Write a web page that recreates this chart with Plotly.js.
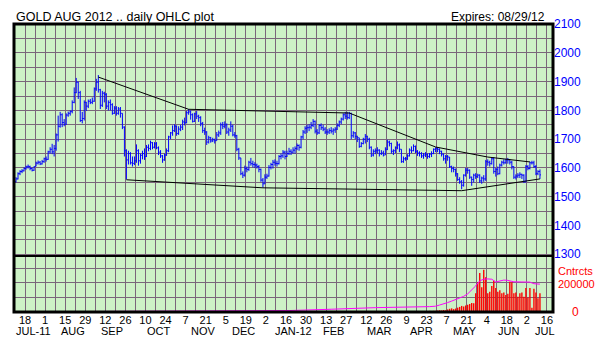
<!DOCTYPE html>
<html>
<head>
<meta charset="utf-8">
<script src="https://cdn.plot.ly/plotly-3.0.1.min.js"></script>
<style>
html,body{margin:0;padding:0;background:#fff;}
#chart{width:612px;height:360px;}
</style>
</head>
<body>
<div id="chart"></div>
<script>
// ---- trading calendar (weekdays) ----
const startDay = '2011-07-11';
const endDay = '2012-07-10';

// ---- daily prices, one row per week (Mon..Fri) ----
const opens = [
1552,1562,1580,1588,1590, 1598,1604,1605,1598,1592, 1606,1617,1620,1614,1622, 1632,1630,1656,1665,1656,
1668,1715,1745,1785,1758, 1752,1784,1790,1796,1828, 1862,1898,1862,1765,1772, 1828,1815,1832,1828,1832,
1875,1898,1872,1818,1860, 1856,1815,1828,1820,1790, 1808,1790,1805,1790,1742, 1660,1628,1650,1618,1616,
1625,1660,1625,1644,1650, 1640,1672,1668,1688,1672, 1684,1670,1655,1642,1628, 1645,1660,1708,1722,1730,
1745,1720,1735,1742,1760, 1758,1792,1795,1785,1762, 1788,1780,1775,1755,1730, 1725,1690,1705,1694,1698,
1695,1715,1722,1750,1745, 1750,1725,1732,1745,1715, 1712,1665,1635,1580,1575, 1598,1595,1620,1615,1612,
1610,1605,1595,1558,1545, 1568,1572,1602,1612,1620, 1616,1615,1640,1642,1655, 1640,1650,1658,1655,1662,
1668,1678,1672,1708,1725, 1738,1740,1742,1748,1762, 1728,1722,1748,1740,1735, 1725,1725,1730,1728,1732,
1735,1748,1760,1770,1785, 1780,1775,1790,1712,1722, 1710,1705,1675,1685,1700, 1710,1700,1672,1645,1658,
1660,1662,1650,1652,1645, 1665,1690,1685,1658,1660, 1670,1680,1665,1622,1632, 1632,1642,1662,1660,1675,
1658,1652,1650,1642,1645, 1648,1640,1648,1650,1665, 1668,1665,1658,1648,1632, 1640,1638,1605,1598,1595,
1580,1560,1552,1540,1575, 1592,1592,1568,1560,1575, 1570,1575,1555,1565,1562, 1622,1620,1615,1632,1588,
1595,1580,1610,1620,1618, 1628,1628,1620,1605,1568, 1572,1575,1578,1575,1552, 1605,1598,1618,1618,1605,
1580,1588
];
const highs = [
1568,1585,1592,1596,1602, 1608,1612,1608,1602,1606, 1622,1626,1624,1628,1636, 1640,1660,1672,1684,1680,
1720,1782,1795,1790,1770, 1790,1796,1800,1835,1880, 1913,1900,1868,1795,1835, 1830,1838,1840,1845,1880,
1910,1923,1875,1868,1865, 1860,1835,1838,1825,1815, 1815,1812,1812,1790,1745, 1665,1660,1655,1640,1640,
1682,1665,1650,1660,1668, 1680,1682,1695,1690,1690, 1690,1675,1662,1645,1650, 1668,1712,1725,1748,1752,
1748,1745,1750,1768,1775, 1798,1805,1800,1790,1792, 1798,1785,1780,1760,1740, 1728,1712,1708,1705,1702,
1725,1730,1758,1760,1762, 1755,1740,1762,1750,1725, 1715,1670,1635,1588,1608, 1605,1625,1635,1625,1620,
1615,1610,1598,1565,1578, 1580,1610,1618,1628,1630, 1625,1645,1650,1662,1660, 1660,1670,1665,1672,1675,
1685,1682,1712,1732,1745, 1750,1752,1760,1770,1765, 1735,1752,1755,1750,1742, 1735,1738,1742,1738,1742,
1755,1765,1775,1790,1795, 1795,1795,1792,1728,1725, 1712,1705,1690,1705,1718, 1712,1705,1675,1665,1668,
1672,1665,1662,1660,1672, 1698,1695,1688,1665,1675, 1692,1685,1665,1640,1638, 1648,1668,1675,1682,1678,
1662,1658,1655,1652,1655, 1650,1652,1658,1668,1672, 1672,1668,1660,1650,1645, 1645,1638,1608,1605,1598,
1582,1568,1558,1578,1600, 1600,1595,1570,1580,1582, 1580,1578,1570,1575,1628, 1630,1625,1638,1638,1600,
1605,1615,1625,1630,1632, 1635,1630,1625,1605,1578, 1582,1585,1580,1578,1610, 1610,1622,1625,1625,1610,
1592,1595
];
const lows = [
1550,1560,1575,1582,1588, 1594,1598,1592,1588,1590, 1606,1612,1610,1612,1618, 1622,1628,1650,1648,1640,
1660,1692,1740,1742,1745, 1750,1778,1782,1790,1825, 1860,1840,1760,1755,1765, 1798,1808,1822,1822,1830,
1868,1862,1805,1812,1828, 1805,1800,1800,1785,1788, 1782,1785,1775,1735,1640, 1560,1612,1612,1605,1610,
1618,1608,1615,1630,1628, 1638,1658,1662,1665,1668, 1665,1645,1635,1618,1625, 1642,1655,1700,1712,1725,
1712,1715,1728,1732,1748, 1755,1785,1768,1758,1760, 1770,1760,1745,1722,1715, 1680,1685,1688,1690,1685,
1695,1708,1715,1735,1738, 1718,1712,1725,1710,1705, 1658,1628,1575,1565,1570, 1585,1590,1608,1602,1600,
1598,1585,1552,1532,1545, 1562,1570,1595,1598,1608, 1605,1612,1630,1635,1630, 1638,1645,1645,1650,1650,
1662,1660,1668,1700,1718, 1722,1728,1735,1742,1720, 1715,1718,1732,1728,1718, 1715,1718,1720,1715,1722,
1732,1742,1752,1765,1770, 1768,1770,1700,1705,1700, 1690,1670,1672,1682,1685, 1690,1665,1638,1640,1648,
1650,1640,1645,1640,1645, 1662,1675,1650,1645,1652, 1665,1655,1618,1618,1625, 1628,1640,1652,1658,1652,
1642,1640,1635,1632,1638, 1632,1635,1638,1648,1655, 1655,1648,1640,1625,1615, 1625,1600,1585,1585,1570,
1555,1545,1526,1535,1570, 1580,1562,1538,1550,1562, 1565,1548,1545,1552,1555, 1608,1605,1612,1580,1570,
1575,1578,1605,1612,1615, 1615,1612,1595,1562,1560, 1565,1565,1562,1548,1550, 1592,1595,1612,1600,1575,
1575,1562
];
const closes = [
1562,1580,1588,1590,1598, 1604,1606,1598,1592,1604, 1617,1620,1614,1622,1632, 1630,1656,1665,1656,1668,
1715,1745,1785,1758,1752, 1784,1790,1796,1828,1862, 1898,1862,1765,1772,1828, 1815,1832,1828,1832,1875,
1898,1872,1818,1860,1856, 1815,1828,1820,1790,1808, 1790,1805,1790,1742,1660, 1628,1650,1618,1616,1625,
1660,1625,1644,1650,1640, 1672,1668,1688,1672,1684, 1670,1655,1642,1628,1645, 1660,1708,1722,1730,1745,
1720,1735,1742,1760,1758, 1792,1795,1785,1762,1788, 1780,1775,1755,1730,1725, 1690,1705,1694,1698,1695,
1715,1722,1750,1745,1750, 1725,1732,1745,1715,1712, 1665,1635,1580,1575,1598, 1595,1620,1615,1612,1610,
1605,1595,1558,1545,1568, 1572,1602,1612,1620,1616, 1615,1640,1642,1655,1640, 1650,1658,1655,1662,1668,
1678,1672,1708,1725,1738, 1740,1742,1748,1762,1728, 1722,1748,1740,1735,1725, 1725,1730,1728,1732,1735,
1748,1760,1770,1785,1780, 1775,1790,1712,1722,1710, 1705,1675,1685,1700,1710, 1700,1672,1645,1658,1660,
1662,1650,1652,1645,1665, 1690,1685,1658,1660,1670, 1680,1665,1622,1632,1632, 1642,1662,1660,1675,1658,
1652,1650,1642,1645,1648, 1640,1648,1650,1665,1668, 1665,1658,1648,1632,1640, 1638,1605,1598,1595,1580,
1560,1552,1540,1575,1592, 1592,1568,1560,1575,1570, 1575,1555,1565,1562,1622, 1620,1615,1632,1588,1595,
1580,1610,1620,1618,1628, 1628,1620,1605,1568,1572, 1575,1578,1575,1552,1605, 1598,1618,1618,1605,1580,
1588,1576
];
// daily volume (contracts)
const volumes = [
0,0,0,0,0, 0,0,0,0,0, 0,0,0,0,0, 0,0,0,0,0,
0,0,0,0,0, 0,0,0,0,0, 0,0,0,0,0, 0,0,0,0,0,
0,0,0,0,0, 0,0,0,0,0, 0,0,0,0,0, 0,0,0,0,0,
0,0,0,0,0, 0,0,0,0,0, 0,0,0,0,0, 0,0,0,0,0,
0,0,0,0,0, 3000,4000,3000,4000,3000, 3000,4000,3000,3000,4000, 3000,4000,3000,2000,3000,
4000,3000,4000,3000,4000, 3000,4000,3000,4000,3000, 4000,5000,4000,3000,4000, 3000,4000,3000,3000,2000,
2000,3000,4000,3000,3000, 3000,4000,4000,3000,4000, 4000,3000,4000,4000,3000, 4000,4000,3000,4000,4000,
4000,3000,4000,4000,4000, 4000,4000,3000,4000,4000, 4000,3000,4000,4000,4000, 4000,4000,4000,3000,4000,
4000,4000,5000,4000,4000, 4000,5000,5000,4000,4000, 5000,4000,4000,5000,4000, 5000,4000,5000,4000,5000,
5000,4000,5000,5000,5000, 5000,6000,5000,5000,5000, 6000,6000,5000,6000,3000, 6000,6000,5000,6000,7000,
7000,6000,7000,6000,7000, 7000,8000,7000,8000,8000, 10000,12000,11000,14000,12000, 18000,22000,25000,20000,24000,
30000,35000,42000,38000,45000, 50000,55000,62000,60000,130000, 205000,268000,170000,292000,240000, 130000,140000,180000,215000,165000,
140000,150000,130000,135000,118000, 125000,208000,205000,130000,135000, 105000,130000,135000,105000,165000, 100000,165000,30000,160000,135000,
95000,130000
];
// open interest (contracts)
const oiDates = ['2011-07-11','2011-11-07','2012-01-17','2012-02-15','2012-03-16','2012-04-24','2012-04-27','2012-05-01','2012-05-03','2012-05-07','2012-05-09','2012-05-11','2012-05-15','2012-05-17','2012-05-21','2012-05-23','2012-05-25','2012-05-29','2012-05-31','2012-06-04','2012-06-06','2012-06-08','2012-06-12','2012-06-14','2012-06-18','2012-06-21','2012-06-27','2012-07-03','2012-07-05','2012-07-10'];
const oiValues = [1000,7000,10000,19000,30000,37000,40000,48000,55000,65000,75000,85000,97000,108000,125000,150000,180000,215000,226000,228000,226000,207000,212000,220000,218000,208000,207000,206000,195000,192000];

// trend lines
const upperLineDates = ['2011-09-06','2011-11-08','2012-02-28','2012-04-27','2012-06-04','2012-07-03'];
const upperLineValues = [1916,1804,1791,1673,1638,1621];
const lowerLineDates = ['2011-09-26','2011-12-29','2012-05-16','2012-07-10'];
const lowerLineValues = [1559,1531,1521,1562];

// axis labels
const tickDates = ['2011-07-18','2011-08-01','2011-08-15','2011-08-29','2011-09-12','2011-09-26','2011-10-10','2011-10-24','2011-11-07','2011-11-21','2011-12-05','2011-12-19','2012-01-02','2012-01-16','2012-01-30','2012-02-13','2012-02-27','2012-03-12','2012-03-26','2012-04-09','2012-04-23','2012-05-07','2012-05-21','2012-06-04','2012-06-18','2012-07-02','2012-07-16'];
const tickDays = ['18','1','15','29','12','26','10','24','7','21','5','19','2','16','30','13','27','12','26','9','23','7','21','4','18','2','16'];
const monthLabels = ['JUL-11','AUG','SEP','OCT','NOV','DEC','JAN-12','FEB','MAR','APR','MAY','JUN','JUL'];
const monthDates = ['2011-07-22','2011-08-19','2011-09-15 12:00','2011-10-18 12:00','2011-11-18','2011-12-16','2012-01-19 12:00','2012-02-16 12:00','2012-03-20 12:00','2012-04-18 12:00','2012-05-18','2012-06-19','2012-07-13'];

const titleText = 'GOLD AUG 2012 .. daily OHLC plot';
const expiresText = 'Expires: 08/29/12';

function tradingDays(a, b) {
  const out = [];
  let d = new Date(a + 'T12:00:00Z');
  const e = new Date(b + 'T12:00:00Z');
  while (d <= e) {
    const w = d.getUTCDay();
    if (w !== 0 && w !== 6) out.push(d.toISOString().slice(0, 10) + ' 12:00');
    d = new Date(d.getTime() + 86400000);
  }
  return out;
}
const dates = tradingDays(startDay, endDay);
const noon = a => a.map(s => s.length === 10 ? s + ' 12:00' : s);

const GRID = '#7a667a';
const FONT = 'Liberation Sans, Arial, sans-serif';

const traces = [
  {
    type: 'ohlc', x: dates, open: opens, high: highs, low: lows, close: closes,
    xaxis: 'x', yaxis: 'y', tickwidth: 0.5,
    increasing: {line: {color: '#0000ff', width: 1}},
    decreasing: {line: {color: '#0000ff', width: 1}},
    hoverinfo: 'skip'
  },
  {
    type: 'scatter', mode: 'lines', x: noon(upperLineDates), y: upperLineValues,
    xaxis: 'x', yaxis: 'y', line: {color: '#000', width: 1}, hoverinfo: 'skip'
  },
  {
    type: 'scatter', mode: 'lines', x: noon(lowerLineDates), y: lowerLineValues,
    xaxis: 'x', yaxis: 'y', line: {color: '#000', width: 1}, hoverinfo: 'skip'
  },
  {
    type: 'bar', x: dates, y: volumes, xaxis: 'x', yaxis: 'y2',
    width: 60000000, marker: {color: '#ff0000', line: {width: 0}}, hoverinfo: 'skip'
  },
  {
    type: 'scatter', mode: 'lines', x: noon(oiDates), y: oiValues,
    xaxis: 'x', yaxis: 'y2', line: {color: '#ff00ff', width: 1}, hoverinfo: 'skip'
  }
];

const split = (312 - 256) / 288;
const annotations = [
  {text: expiresText, xref: 'paper', yref: 'paper', x: (547 - 14) / 539, y: (312 - 17) / 288,
   xanchor: 'right', yanchor: 'middle', showarrow: false, font: {size: 12, color: '#000', family: FONT}},
  {text: 'Cntrcts', xref: 'paper', yref: 'paper', x: (556 - 14) / 539, y: (312 - 271) / 288,
   xanchor: 'left', yanchor: 'middle', showarrow: false, font: {size: 11, color: '#ff0000', family: FONT}},
  {text: '200000', xref: 'paper', yref: 'paper', x: (556 - 14) / 539, y: (312 - 284) / 288,
   xanchor: 'left', yanchor: 'middle', showarrow: false, font: {size: 11, color: '#ff0000', family: FONT}},
  {text: '0', xref: 'paper', yref: 'paper', x: (575 - 14) / 539, y: 0,
   xanchor: 'center', yanchor: 'middle', showarrow: false, font: {size: 12, color: '#ff0000', family: FONT}}
];
monthLabels.forEach((m, i) => annotations.push({
  text: m, xref: 'x', yref: 'paper', x: monthDates[i], y: (312 - 331) / 288,
  xanchor: 'center', yanchor: 'middle', showarrow: false, font: {size: 11, color: '#000', family: FONT}
}));

const layout = {
  width: 612, height: 360,
  margin: {l: 14, r: 59, t: 24, b: 48, pad: 0},
  paper_bgcolor: '#ffffff', plot_bgcolor: '#cdf2c6',
  showlegend: false, hovermode: false,
  font: {family: FONT, color: '#000'},
  title: {text: titleText, x: 16 / 612, xanchor: 'left', y: 1 - 17 / 360, yanchor: 'middle',
          font: {size: 12.5, color: '#000', family: FONT}},
  xaxis: {
    type: 'date', anchor: 'y2',
    range: ['2011-07-08 12:00', '2012-07-19'],
    rangebreaks: [{bounds: ['sat', 'mon']}],
    rangeslider: {visible: false},
    tickmode: 'array', tickvals: tickDates, ticktext: tickDays, tickangle: 0,
    tickfont: {size: 11, color: '#000', family: FONT},
    ticks: '', showline: false, zeroline: false,
    showgrid: true, gridcolor: GRID, gridwidth: 1,
    minor: {tick0: '2011-07-11', dtick: 604800000, showgrid: true, gridcolor: GRID, gridwidth: 1, ticks: ''}
  },
  yaxis: {
    domain: [split, 1], range: [1294, 2100.5], side: 'right',
    tick0: 1300, dtick: 100, ticks: '',
    tickfont: {size: 12, color: '#0000ff', family: FONT},
    showgrid: true, gridcolor: GRID, gridwidth: 1, zeroline: false, showline: false,
    minor: {dtick: 50, showgrid: true, gridcolor: GRID, gridwidth: 1, ticks: ''}
  },
  yaxis2: {
    domain: [0, split], range: [0, 386000], side: 'right',
    tick0: 0, dtick: 100000, showticklabels: false, ticks: '',
    showgrid: true, gridcolor: GRID, gridwidth: 1, zeroline: false, showline: false
  },
  shapes: [
    {type: 'rect', xref: 'paper', yref: 'paper', x0: 0, x1: 1, y0: 0, y1: 1,
     line: {color: '#000', width: 3}, layer: 'above'},
    {type: 'line', xref: 'paper', yref: 'paper', x0: 0, x1: 1, y0: split, y1: split,
     line: {color: '#000', width: 2}, layer: 'above'}
  ],
  annotations: annotations
};

Plotly.newPlot('chart', traces, layout, {staticPlot: true, displayModeBar: false});
</script>
</body>
</html>
